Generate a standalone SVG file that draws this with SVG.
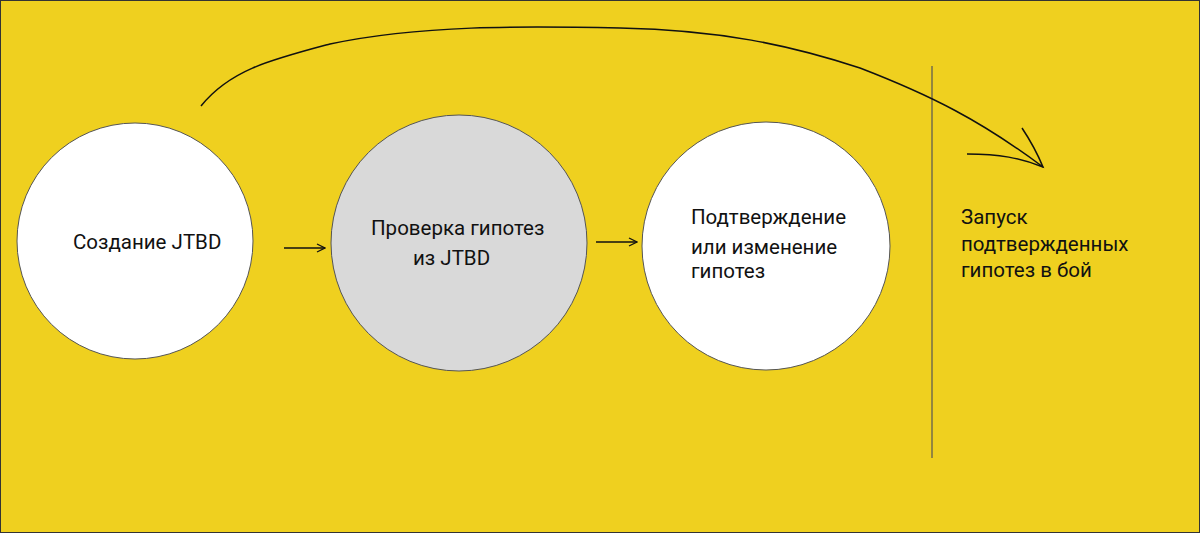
<svg xmlns="http://www.w3.org/2000/svg" width="1200" height="533" viewBox="0 0 1200 533">
<style>
.c{stroke:#555;stroke-width:1}
.t{font-family:Roboto,"Liberation Sans",sans-serif;font-size:20.5px;fill:#111}
.l{fill:none;stroke:#111;stroke-width:1.5}
</style>
<defs><marker id="a" markerWidth="10" markerHeight="10" refX="9" refY="5" orient="auto" markerUnits="userSpaceOnUse"><path d="M1,1 L9,5 L1,9" fill="none" stroke="#111" stroke-width="1.3"/></marker></defs>
<rect x="0.5" y="0.5" width="1199" height="532" fill="#EFD01F" stroke="#333"/>
<g id="n1"><circle class="c" cx="135" cy="241" r="118" fill="#fff"/><text class="t" x="73" y="249">Создание JTBD</text></g>
<g id="n2"><circle class="c" cx="459" cy="243" r="128" fill="#d9d9d9"/><text class="t" x="371" y="235">Проверка гипотез</text><text class="t" x="413" y="265">из JTBD</text></g>
<g id="n3"><circle class="c" cx="766" cy="246" r="124" fill="#fff"/><text class="t" x="691" y="224">Подтверждение</text><text class="t" x="691" y="254">или изменение</text><text class="t" x="691" y="278">гипотез</text></g>
<g id="n4"><text class="t" x="961" y="224">Запуск</text><text class="t" x="961" y="251">подтвержденных</text><text class="t" x="961" y="277">гипотез в бой</text></g>
<g id="connectors">
<line x1="932" y1="66" x2="932" y2="458" stroke="#555" stroke-width="1.2"/>
<line class="l" x1="284" y1="248" x2="325" y2="248" marker-end="url(#a)"/>
<line class="l" x1="596" y1="242" x2="637" y2="242" marker-end="url(#a)"/>
<path class="l" d="M201,106 C230,70 270,60 330,44 C420,25 520,26 620,28 C720,30 790,45 860,68 C930,95 980,120 1043,167"/>
<path class="l" d="M1022,128 C1030,140 1038,155 1043,167 C1020,158 1000,154 967,154"/>
</g>
</svg>
